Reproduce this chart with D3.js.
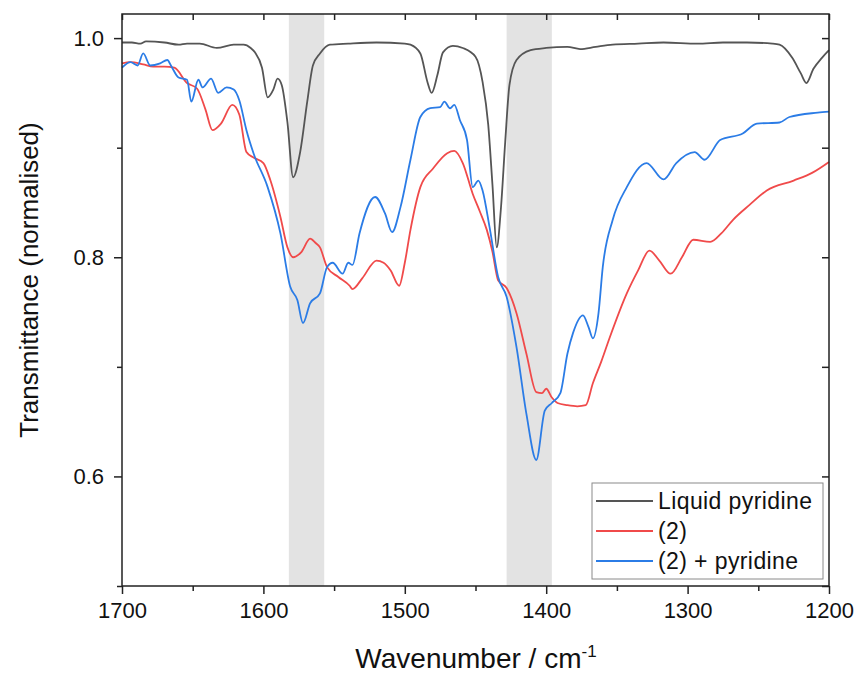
<!DOCTYPE html>
<html>
<head>
<meta charset="utf-8">
<script src="https://cdn.jsdelivr.net/npm/d3@7"></script>
<style>
    body { margin: 0; background: #fff; }
    text { font-family: 'Liberation Sans', Arial, sans-serif; fill: #111; }
</style>
</head>
<body>
<script>
// data
var pyridineWn = [1700, 1693, 1687, 1683, 1670, 1660, 1654, 1645, 1633, 1621, 1614, 1609, 1606, 1601, 1597, 1593, 1590, 1587, 1583, 1579, 1574, 1569, 1565, 1560, 1553, 1540, 1520, 1500, 1496, 1489, 1484, 1481, 1477, 1473, 1466, 1459, 1450, 1445, 1441, 1438, 1435, 1432, 1429, 1426, 1421, 1411, 1400, 1385, 1376, 1365, 1353, 1335, 1317, 1293, 1275, 1258, 1240, 1235, 1226, 1220, 1216, 1211, 1205, 1200];
var pyridineT = [0.996, 0.996, 0.995, 0.997, 0.996, 0.994, 0.995, 0.995, 0.991, 0.994, 0.994, 0.991, 0.987, 0.973, 0.946, 0.953, 0.963, 0.957, 0.923, 0.873, 0.896, 0.942, 0.975, 0.986, 0.994, 0.995, 0.996, 0.995, 0.994, 0.986, 0.960, 0.950, 0.966, 0.987, 0.993, 0.991, 0.983, 0.960, 0.921, 0.866, 0.809, 0.845, 0.905, 0.957, 0.980, 0.989, 0.991, 0.992, 0.990, 0.992, 0.994, 0.995, 0.996, 0.995, 0.996, 0.996, 0.995, 0.994, 0.982, 0.968, 0.959, 0.972, 0.982, 0.989];

var complexWn = [1700, 1694, 1685, 1678, 1670, 1663, 1654, 1647, 1641, 1636, 1630, 1622, 1617, 1612, 1607, 1600, 1595, 1588, 1583, 1579, 1573, 1567, 1563, 1560, 1555, 1547, 1539, 1537, 1530, 1520, 1515, 1510, 1504, 1500, 1496, 1489, 1480, 1470, 1465, 1459, 1452, 1447, 1442, 1438, 1434, 1428, 1421, 1414, 1407, 1403, 1400, 1396, 1392, 1385, 1378, 1372, 1367, 1361, 1355, 1343, 1335, 1327, 1320, 1312, 1304, 1296, 1284, 1276, 1268, 1256, 1244, 1225, 1212, 1200];
var complexT = [0.977, 0.978, 0.976, 0.974, 0.974, 0.973, 0.959, 0.954, 0.935, 0.916, 0.922, 0.939, 0.930, 0.896, 0.891, 0.886, 0.870, 0.837, 0.809, 0.800, 0.805, 0.817, 0.813, 0.809, 0.791, 0.782, 0.774, 0.771, 0.781, 0.797, 0.795, 0.788, 0.774, 0.795, 0.825, 0.864, 0.881, 0.895, 0.897, 0.886, 0.858, 0.842, 0.825, 0.805, 0.779, 0.772, 0.749, 0.712, 0.677, 0.676, 0.680, 0.672, 0.667, 0.665, 0.664, 0.665, 0.685, 0.705, 0.727, 0.767, 0.788, 0.806, 0.797, 0.785, 0.800, 0.816, 0.814, 0.822, 0.834, 0.848, 0.861, 0.870, 0.877, 0.887];

var mixWn = [1700, 1694, 1689, 1685, 1680, 1673, 1668, 1665, 1660, 1654, 1651, 1646, 1643, 1637, 1632, 1626, 1621, 1617, 1612, 1607, 1597, 1588, 1581, 1576, 1572, 1567, 1560, 1555, 1551, 1544, 1540, 1537, 1532, 1521, 1514, 1509, 1503, 1496, 1489, 1482, 1475, 1472, 1468, 1465, 1461, 1456, 1452, 1448, 1445, 1440, 1434, 1428, 1421, 1414, 1407, 1401, 1396, 1390, 1385, 1381, 1374, 1370, 1367, 1363, 1360, 1353, 1343, 1329, 1317, 1308, 1295, 1288, 1277, 1261, 1251, 1235, 1228, 1208, 1200];
var mixT = [0.973, 0.978, 0.975, 0.986, 0.975, 0.977, 0.980, 0.974, 0.964, 0.962, 0.942, 0.962, 0.955, 0.963, 0.950, 0.955, 0.953, 0.943, 0.916, 0.895, 0.864, 0.822, 0.773, 0.761, 0.740, 0.758, 0.767, 0.791, 0.795, 0.785, 0.795, 0.793, 0.822, 0.855, 0.840, 0.823, 0.846, 0.889, 0.928, 0.936, 0.937, 0.942, 0.936, 0.939, 0.925, 0.907, 0.864, 0.870, 0.861, 0.827, 0.782, 0.764, 0.718, 0.657, 0.615, 0.660, 0.667, 0.676, 0.712, 0.731, 0.747, 0.736, 0.726, 0.749, 0.791, 0.834, 0.864, 0.886, 0.871, 0.886, 0.896, 0.889, 0.907, 0.913, 0.922, 0.923, 0.928, 0.932, 0.933];

var seriesNames = ['Liquid pyridine', '(2)', '(2) + pyridine'];
var seriesColors = ['#555555', '#f04a4a', '#2b7ce6'];

var bandStart = [1582, 1428];
var bandEnd = [1557, 1396];

var xTicks = [1700, 1600, 1500, 1400, 1300, 1200];
var xMinorTicks = [1650, 1550, 1450, 1350, 1250];
var yTicks = [0.6, 0.8, 1.0];
var yMinorTicks = [0.5, 0.7, 0.9];

var WIDTH = 858;
var HEIGHT = 675;
var LEFT = 122, RIGHT = 829, TOP = 14, BOTTOM = 586;
var FONT = "'Liberation Sans', Arial, sans-serif";

var svg = d3.select('body').append('svg')
    .attr('width', WIDTH)
    .attr('height', HEIGHT);

var x = d3.scaleLinear().domain([1700, 1200]).range([LEFT, RIGHT]);
var y = d3.scaleLinear().domain([0.5, 1.022]).range([BOTTOM, TOP]);

// grey highlight bands
svg.selectAll('.band').data(d3.range(bandStart.length)).enter()
    .append('rect')
    .attr('class', 'band')
    .attr('x', function(i){ return x(bandStart[i]); })
    .attr('width', function(i){ return x(bandEnd[i]) - x(bandStart[i]); })
    .attr('y', TOP)
    .attr('height', BOTTOM - TOP)
    .attr('fill', '#e3e3e3');

var series = [
    { wn: pyridineWn, t: pyridineT },
    { wn: complexWn, t: complexT },
    { wn: mixWn, t: mixT }
];

var line = d3.line()
    .x(function(d){ return x(d[0]); })
    .y(function(d){ return y(d[1]); })
    .curve(d3.curveMonotoneX);

svg.selectAll('.spec').data(series).enter()
    .append('path')
    .attr('class', 'spec')
    .attr('d', function(s){ return line(d3.zip(s.wn, s.t)); })
    .attr('fill', 'none')
    .attr('stroke', function(s, i){ return seriesColors[i]; })
    .attr('stroke-width', 1.8)
    .attr('stroke-linejoin', 'round');

// axes: outward ticks bottom/left, inward mirror ticks top/right
var axisColor = '#222';
function styleAxis(g){
    g.select('.domain').remove();
    g.selectAll('.tick line').attr('stroke', axisColor).attr('stroke-width', 1.5);
    g.selectAll('.tick text').style('font-family', FONT).style('font-size', '22px').attr('fill', '#111');
}

svg.append('g')
    .attr('transform', 'translate(0,' + BOTTOM + ')')
    .call(d3.axisBottom(x).tickValues(xTicks).tickSize(8).tickPadding(8).tickFormat(d3.format('d')))
    .call(styleAxis);

svg.append('g')
    .attr('transform', 'translate(0,' + BOTTOM + ')')
    .call(d3.axisBottom(x).tickValues(xMinorTicks).tickSize(5).tickFormat(''))
    .call(styleAxis);

svg.append('g')
    .attr('transform', 'translate(0,' + TOP + ')')
    .call(d3.axisBottom(x).tickValues(xTicks.concat(xMinorTicks)).tickSize(6).tickFormat(''))
    .call(styleAxis);

svg.append('g')
    .attr('transform', 'translate(' + LEFT + ',0)')
    .call(d3.axisLeft(y).tickValues(yTicks).tickSize(8).tickPadding(10).tickFormat(d3.format('.1f')))
    .call(styleAxis);

svg.append('g')
    .attr('transform', 'translate(' + LEFT + ',0)')
    .call(d3.axisLeft(y).tickValues(yMinorTicks).tickSize(5).tickFormat(''))
    .call(styleAxis);

svg.append('g')
    .attr('transform', 'translate(' + RIGHT + ',0)')
    .call(d3.axisLeft(y).tickValues(yTicks.concat(yMinorTicks)).tickSize(7).tickFormat(''))
    .call(styleAxis);

// frame
svg.append('rect')
    .attr('x', LEFT)
    .attr('y', TOP)
    .attr('width', RIGHT - LEFT)
    .attr('height', BOTTOM - TOP)
    .attr('fill', 'none')
    .attr('stroke', axisColor)
    .attr('stroke-width', 1.5);

// axis titles
var xTitle = svg.append('text')
    .attr('x', 476)
    .attr('y', 668)
    .attr('text-anchor', 'middle')
    .style('font-size', '28px');
xTitle.append('tspan').text('Wavenumber / cm');
xTitle.append('tspan').attr('dy', -11).style('font-size', '17px').text('-1');

svg.append('text')
    .attr('transform', 'translate(38,280) rotate(-90)')
    .attr('text-anchor', 'middle')
    .style('font-size', '26px')
    .text('Transmittance (normalised)');

// legend
var legend = svg.append('g').attr('transform', 'translate(592,483)');
legend.append('rect')
    .attr('width', 231)
    .attr('height', 96)
    .attr('fill', '#fff')
    .attr('stroke', '#8a8a8a')
    .attr('stroke-width', 1);

var rows = legend.selectAll('.leg').data(seriesNames).enter()
    .append('g')
    .attr('class', 'leg')
    .attr('transform', function(d, i){ return 'translate(0,' + (18 + i * 30) + ')'; });
rows.append('line')
    .attr('x1', 4).attr('x2', 61)
    .attr('stroke', function(d, i){ return seriesColors[i]; })
    .attr('stroke-width', 1.8);
rows.append('text')
    .attr('x', 66)
    .attr('y', 8)
    .style('font-size', '23px')
    .style('letter-spacing', '0.4px')
    .text(function(d){ return d; });
</script>
</body>
</html>
